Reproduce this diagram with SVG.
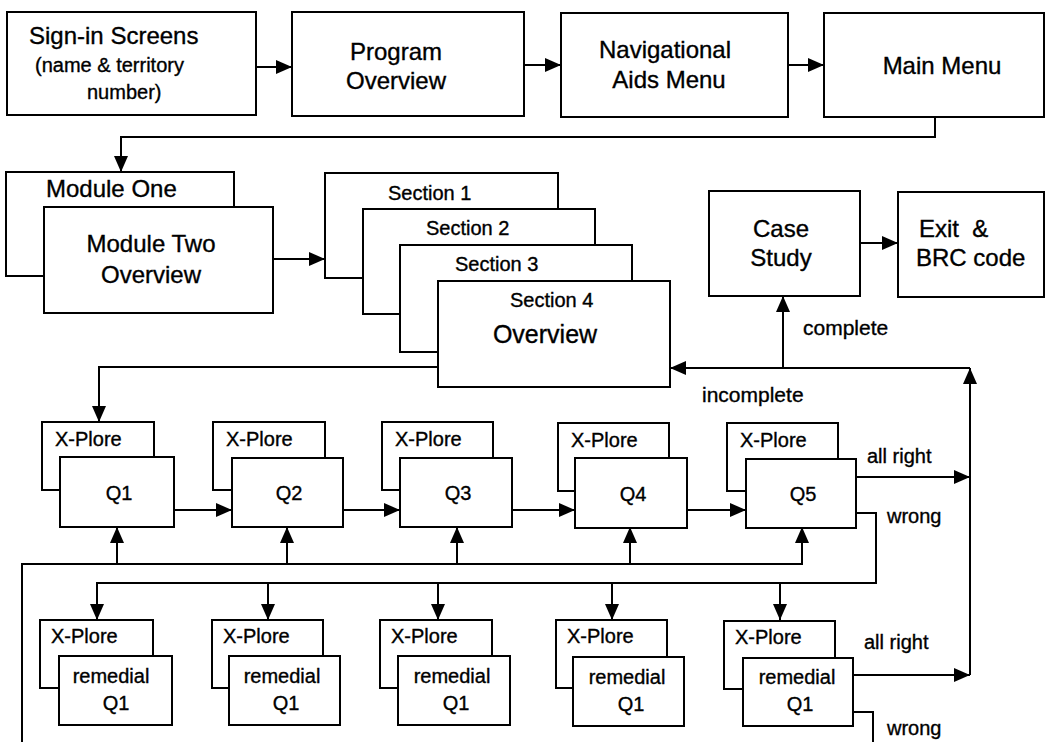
<svg xmlns="http://www.w3.org/2000/svg" width="1052" height="742" viewBox="0 0 1052 742">
<style>
.b{fill:#fff;stroke:#000;stroke-width:2}
.c{fill:none;stroke:#000;stroke-width:2}
text{font-family:"Liberation Sans",Arial,sans-serif;fill:#000;stroke:#000;stroke-width:0.35}
.L{font-size:24px}
.S{font-size:20px}
.m{text-anchor:middle}
</style>
<defs>
<marker id="arr" markerUnits="userSpaceOnUse" markerWidth="16" markerHeight="14" refX="16" refY="7" orient="auto">
<path d="M0,0 L16,7 L0,14 z" fill="#000"/>
</marker>
</defs>
<rect width="1052" height="742" fill="#fff"/>

<g id="connectors" class="c" marker-end="url(#arr)">
<path d="M256,67 H292"/>
<path d="M524,65 H561"/>
<path d="M788,65 H824"/>
<path d="M935,117 V137 H121 V172"/>
<path d="M273,259 H325"/>
<path d="M438,367 H99 V422"/>
<path d="M860,243 H898"/>
<path d="M783,368 V296"/>
<path d="M970,368 H670"/>
<path d="M970,675 V368"/>
<path d="M174,510 H232"/>
<path d="M343,510 H400"/>
<path d="M512,510 H575"/>
<path d="M687,510 H746"/>
<path d="M856,477 H970"/>
<path d="M856,513 H876 V583 H97 V620"/>
<path d="M268,583 V620"/>
<path d="M438,583 V620"/>
<path d="M612,583 V620"/>
<path d="M780,583 V620"/>
<path d="M22,742 V564 H802 V527"/>
<path d="M117,564 V527"/>
<path d="M287,564 V527"/>
<path d="M457,564 V527"/>
<path d="M630,564 V527"/>
<path d="M853,675 H970"/>
<path d="M853,712 H873 V742" marker-end="none"/>
</g>

<g id="signin">
<rect class="b" x="7" y="12" width="249" height="103"/>
<text class="L" x="29" y="44">Sign-in Screens</text>
<text class="S" x="35" y="72">(name &amp; territory</text>
<text class="S" x="87" y="99">number)</text>
</g>
<g id="program">
<rect class="b" x="292" y="12" width="232" height="104"/>
<text class="L m" x="396" y="60">Program</text>
<text class="L m" x="396" y="89">Overview</text>
</g>
<g id="nav">
<rect class="b" x="561" y="13" width="227" height="104"/>
<text class="L m" x="665" y="58">Navigational</text>
<text class="L m" x="669" y="88">Aids Menu</text>
</g>
<g id="mainmenu">
<rect class="b" x="824" y="13" width="220" height="104"/>
<text class="L m" x="942" y="74">Main Menu</text>
</g>

<g id="module1">
<rect class="b" x="6" y="172" width="228" height="104"/>
<text class="L" x="46" y="197">Module One</text>
</g>
<g id="module2">
<rect class="b" x="44" y="207" width="229" height="106"/>
<text class="L m" x="151" y="252">Module Two</text>
<text class="L m" x="151" y="283">Overview</text>
</g>

<g id="section1">
<rect class="b" x="325" y="173" width="233" height="105"/>
<text class="S" x="388" y="200">Section 1</text>
</g>
<g id="section2">
<rect class="b" x="363" y="209" width="232" height="105"/>
<text class="S" x="426" y="235">Section 2</text>
</g>
<g id="section3">
<rect class="b" x="400" y="245" width="232" height="107"/>
<text class="S" x="455" y="271">Section 3</text>
</g>
<g id="section4">
<rect class="b" x="438" y="281" width="232" height="106"/>
<text class="S" x="510" y="307">Section 4</text>
<text class="m" style="font-size:25px" x="545" y="343">Overview</text>
</g>

<g id="casestudy">
<rect class="b" x="709" y="191" width="151" height="105"/>
<text class="L m" x="781" y="237">Case</text>
<text class="L m" x="781" y="266">Study</text>
</g>
<g id="exit">
<rect class="b" x="898" y="192" width="146" height="105"/>
<text class="L" x="919" y="237" xml:space="preserve">Exit  &amp;</text>
<text class="L" x="916" y="266">BRC code</text>
</g>

<g id="q1">
<rect class="b" x="42" y="422" width="112" height="68"/>
<text class="S" x="55" y="446">X-Plore</text>
<rect class="b" x="60" y="457" width="114" height="70"/>
<text class="S m" x="119" y="500">Q1</text>
</g>
<g id="q2">
<rect class="b" x="213" y="422" width="112" height="68"/>
<text class="S" x="226" y="446">X-Plore</text>
<rect class="b" x="232" y="458" width="111" height="69"/>
<text class="S m" x="289" y="500">Q2</text>
</g>
<g id="q3">
<rect class="b" x="382" y="422" width="111" height="68"/>
<text class="S" x="395" y="446">X-Plore</text>
<rect class="b" x="400" y="458" width="112" height="69"/>
<text class="S m" x="458" y="500">Q3</text>
</g>
<g id="q4">
<rect class="b" x="558" y="423" width="111" height="68"/>
<text class="S" x="571" y="447">X-Plore</text>
<rect class="b" x="575" y="458" width="112" height="70"/>
<text class="S m" x="633" y="501">Q4</text>
</g>
<g id="q5">
<rect class="b" x="727" y="423" width="111" height="68"/>
<text class="S" x="740" y="447">X-Plore</text>
<rect class="b" x="746" y="459" width="110" height="69"/>
<text class="S m" x="803" y="501">Q5</text>
</g>

<g id="labels">
<text style="font-size:21px" x="803" y="335">complete</text>
<text style="font-size:21px" x="702" y="402">incomplete</text>
<text class="S" x="867" y="463">all right</text>
<text class="S" x="887" y="523">wrong</text>
<text class="S" x="864" y="649">all right</text>
<text class="S" x="887" y="735">wrong</text>
</g>

<g id="r1">
<rect class="b" x="40" y="620" width="113" height="68"/>
<text class="S" x="51" y="643">X-Plore</text>
<rect class="b" x="59" y="656" width="113" height="69"/>
<text class="S m" x="111" y="683">remedial</text>
<text class="S m" x="116" y="710">Q1</text>
</g>
<g id="r2">
<rect class="b" x="212" y="620" width="111" height="68"/>
<text class="S" x="223" y="643">X-Plore</text>
<rect class="b" x="229" y="656" width="111" height="69"/>
<text class="S m" x="282" y="683">remedial</text>
<text class="S m" x="286" y="710">Q1</text>
</g>
<g id="r3">
<rect class="b" x="380" y="620" width="112" height="68"/>
<text class="S" x="391" y="643">X-Plore</text>
<rect class="b" x="398" y="656" width="112" height="69"/>
<text class="S m" x="452" y="683">remedial</text>
<text class="S m" x="456" y="710">Q1</text>
</g>
<g id="r4">
<rect class="b" x="556" y="620" width="111" height="68"/>
<text class="S" x="567" y="643">X-Plore</text>
<rect class="b" x="573" y="657" width="111" height="69"/>
<text class="S m" x="627" y="684">remedial</text>
<text class="S m" x="631" y="711">Q1</text>
</g>
<g id="r5">
<rect class="b" x="724" y="621" width="111" height="68"/>
<text class="S" x="735" y="644">X-Plore</text>
<rect class="b" x="743" y="658" width="110" height="68"/>
<text class="S m" x="797" y="684">remedial</text>
<text class="S m" x="800" y="711">Q1</text>
</g>
</svg>
